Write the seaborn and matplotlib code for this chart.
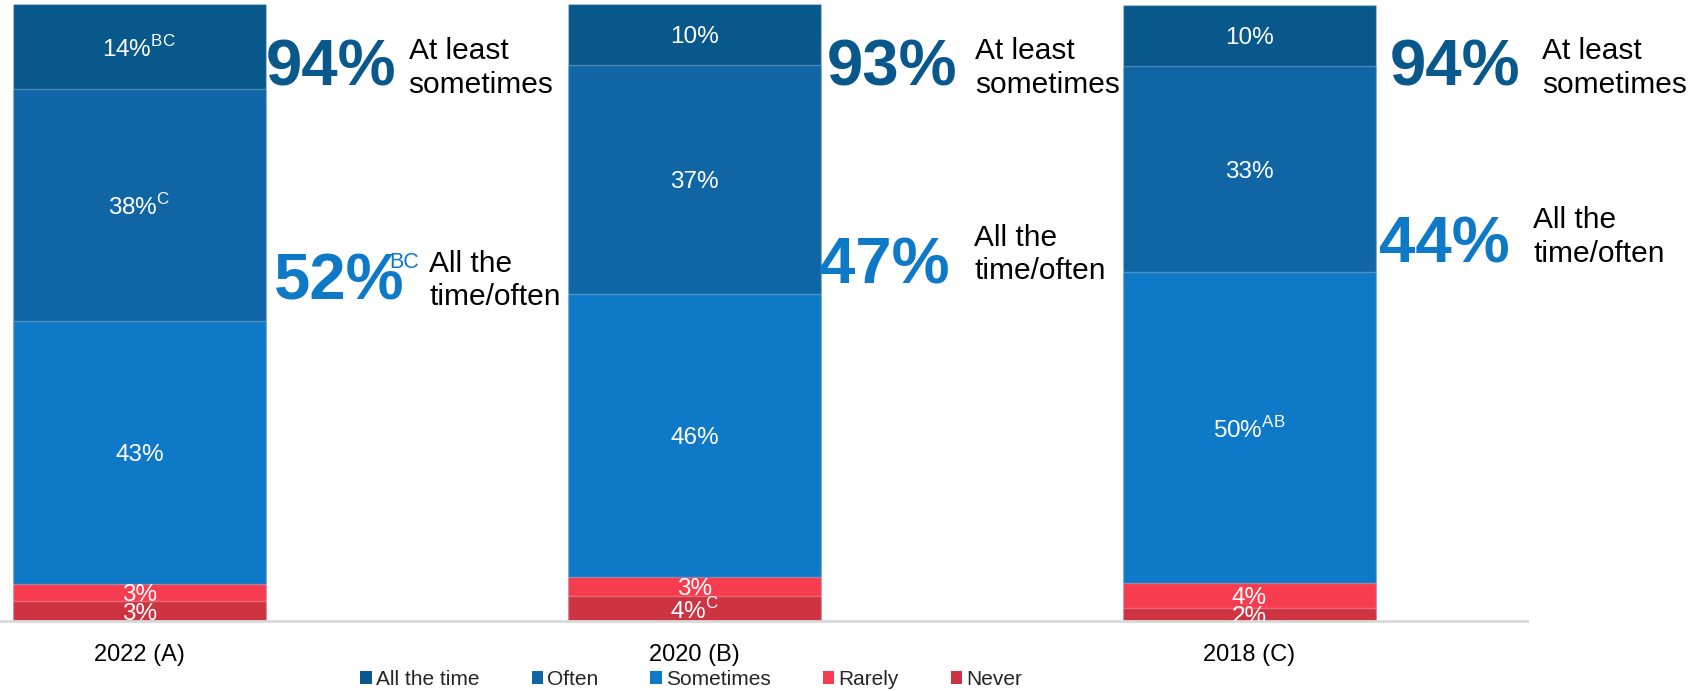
#!/usr/bin/env python3
"""Stacked frequency bars for three survey waves, with summary call-outs."""

import matplotlib

matplotlib.use("Agg")
import matplotlib.pyplot as plt
import pandas as pd
import seaborn as sns
from matplotlib.patches import Patch

# ---- data (percent of respondents) ----
years = ["2022 (A)", "2020 (B)", "2018 (C)"]
levels = ["All the time", "Often", "Sometimes", "Rarely", "Never"]

all_the_time = [13.7, 9.9, 10.0]
often = [37.7, 37.1, 33.3]
sometimes = [42.6, 45.8, 50.5]
rarely = [2.8, 3.2, 4.0]
never = [3.2, 4.0, 2.1]

# printed labels and significance letters for each segment
all_the_time_lbl = ["14%", "10%", "10%"]
often_lbl = ["38%", "37%", "33%"]
sometimes_lbl = ["43%", "46%", "50%"]
rarely_lbl = ["3%", "3%", "4%"]
never_lbl = ["3%", "4%", "2%"]

all_the_time_sig = ["BC", "", ""]
often_sig = ["C", "", ""]
sometimes_sig = ["", "", "AB"]
rarely_sig = ["", "", ""]
never_sig = ["", "C", ""]

# call-out totals
at_least_sometimes = ["94%", "93%", "94%"]
time_often = ["52%", "47%", "44%"]
time_often_sig = ["BC", "", ""]

colors = {
    "All the time": "#09588C",
    "Often": "#1066A5",
    "Sometimes": "#0E79C6",
    "Rarely": "#F73C50",
    "Never": "#CE3342",
}

# call-out placement (data units relative to bar centre)
big_x = [0.228, 0.239, 0.253]
note_x = [0.485, 0.505, 0.527]
tt_big_x = [0.242, 0.224, 0.234]
tt_note_x = [0.522, 0.504, 0.511]
top_y = 89.6
tt_big_y = [54.8, 57.4, 60.9]
tt_note_y = [55.2, 59.4, 62.2]


def main() -> None:
    values = {
        "All the time": all_the_time,
        "Often": often,
        "Sometimes": sometimes,
        "Rarely": rarely,
        "Never": never,
    }
    labels = {
        "All the time": (all_the_time_lbl, all_the_time_sig),
        "Often": (often_lbl, often_sig),
        "Sometimes": (sometimes_lbl, sometimes_sig),
        "Rarely": (rarely_lbl, rarely_sig),
        "Never": (never_lbl, never_sig),
    }

    rows = []
    for lvl in levels:
        for i, yr in enumerate(years):
            rows.append({"year": yr, "level": lvl, "value": values[lvl][i],
                         "label": labels[lvl][0][i], "sig": labels[lvl][1][i]})
    df = pd.DataFrame(rows)
    # stack from the bottom (Never) upwards
    df["level"] = pd.Categorical(df["level"], categories=levels[::-1], ordered=True)
    df = df.sort_values(["year", "level"])
    df["top"] = df.groupby("year", sort=False)["value"].cumsum()
    df["mid"] = df["top"] - df["value"] / 2

    sns.set_style("white")
    plt.rcParams["font.family"] = ["Liberation Sans", "DejaVu Sans"]

    fig = plt.figure(figsize=(17.03, 6.91), dpi=100)
    ax = fig.add_axes([0.0, 0.1013, 1527 / 1703, 0.8929])

    # draw tallest cumulative first so lower segments overlay it
    for lvl in levels:
        sub = df[df["level"] == lvl]
        sns.barplot(
            data=sub, x="year", y="top", order=years, color=colors[lvl],
            saturation=1, width=0.456, edgecolor=(1, 1, 1, 0.25),
            linewidth=1, ax=ax, zorder=2,
        )

    for _, r in df.iterrows():
        i = years.index(r["year"])
        txt = r["label"]
        if r["sig"]:
            txt += r"$^{\mathregular{" + r["sig"] + "}}$"
        ax.text(i, r["mid"] - 0.4, txt, ha="center", va="center", color="white",
                fontsize=17.5, zorder=3, clip_on=True)

    for i in range(len(years)):
        c_top = colors["All the time"]
        c_tt = colors["Sometimes"]
        ax.text(i + big_x[i], top_y, at_least_sometimes[i], ha="left", va="center",
                fontsize=47, fontweight="bold", color=c_top, clip_on=False)
        ax.text(i + note_x[i], top_y, "At least\nsometimes", ha="left", va="center",
                fontsize=21.5, color="black", linespacing=1.25, clip_on=False)
        big = ax.text(i + tt_big_x[i], tt_big_y[i], time_often[i], ha="left",
                      va="center", fontsize=47, fontweight="bold", color=c_tt,
                      clip_on=False)
        if time_often_sig[i]:
            ax.annotate(time_often_sig[i], xy=(1, 1), xycoords=big,
                        xytext=(-11, 1), textcoords="offset points",
                        ha="left", va="top", fontsize=15.5, color=c_tt)
        ax.text(i + tt_note_x[i], tt_note_y[i], "All the\ntime/often", ha="left",
                va="center", fontsize=21.5, color="black", linespacing=1.25,
                clip_on=False)

    ax.set_xlim(-0.251, 2.5)
    ax.set_ylim(0, 100)
    ax.set_xlabel("")
    ax.set_ylabel("")
    ax.set_yticks([])
    for side in ("left", "top", "right"):
        ax.spines[side].set_visible(False)
    ax.spines["bottom"].set_color("#D9D9D9")
    ax.spines["bottom"].set_linewidth(2)
    ax.tick_params(axis="x", which="major", length=0, labelsize=17, pad=16.5,
                   labelcolor="black")
    ax.set_xticks([0.5, 1.5, 2.5], minor=True)
    ax.tick_params(axis="x", which="minor", length=6, width=1.5, color="#D9D9D9")

    handles = [Patch(facecolor=colors[l], edgecolor="none") for l in levels]
    fig.legend(
        handles, levels, loc="center", bbox_to_anchor=(0.406, 0.017),
        ncol=5, frameon=False, fontsize=15, handlelength=0.55,
        handleheight=0.55, handletextpad=0.2, columnspacing=2.5, borderpad=0,
    )

    fig.savefig("out.png", dpi=100)
    plt.close(fig)


if __name__ == "__main__":
    main()
